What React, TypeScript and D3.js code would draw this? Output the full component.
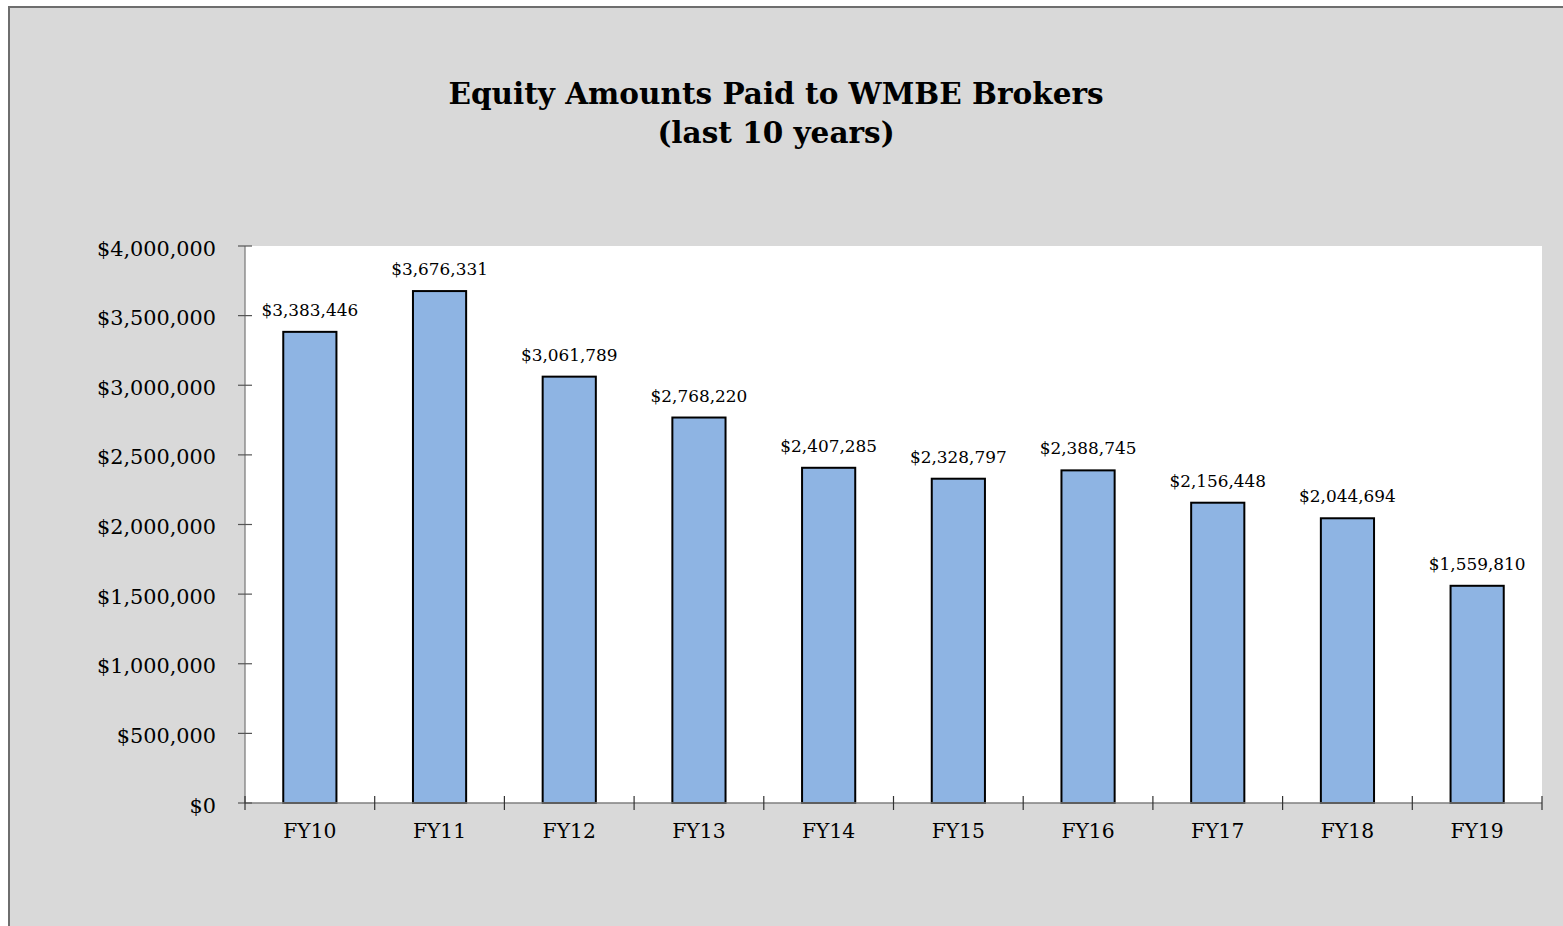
import React from "react";
import * as d3 from "d3";

const categories = ["FY10", "FY11", "FY12", "FY13", "FY14", "FY15", "FY16", "FY17", "FY18", "FY19"];
const amounts = [3383446, 3676331, 3061789, 2768220, 2407285, 2328797, 2388745, 2156448, 2044694, 1559810];
const yTicks = [0, 500000, 1000000, 1500000, 2000000, 2500000, 3000000, 3500000, 4000000];
const titleLines = ["Equity Amounts Paid to WMBE Brokers", "(last 10 years)"];

const W = 1563;
const H = 926;
const left = 245;
const right = 1542;
const top = 246;
const bottom = 803;
const font = "'DejaVu Serif', serif";

export default function App() {
  const x = d3.scaleBand<string>().domain(categories).range([left, right]).paddingInner(0.59).paddingOuter(0.295);
  const xb = d3.scaleBand<string>().domain(categories).range([left, right]);
  const y = d3.scaleLinear().domain([0, 4000000]).range([bottom, top]);
  const fmt = (v: number) => "$" + d3.format(",")(v);
  const boundaries = [left, ...categories.map((c) => (xb(c) as number) + xb.bandwidth())];

  return (
    <svg width={W} height={H} style={{ position: "absolute", left: 0, top: 0 }} fontFamily={font}>
      <rect x={9} y={7} width={W} height={H} fill="#d9d9d9" />
      <line x1={9} y1={6} x2={9} y2={H} stroke="#6e6e6e" strokeWidth={2} />
      <line x1={8} y1={7} x2={W} y2={7} stroke="#6e6e6e" strokeWidth={2} />
      {titleLines.map((t, i) => (
        <text key={t} x={776} y={104 + i * 39} textAnchor="middle" fontWeight="bold" fontSize={29.5} fill="#000">
          {t}
        </text>
      ))}
      <rect x={left} y={top} width={right - left} height={bottom - top} fill="#fff" />
      {categories.map((c, i) => (
        <rect
          key={c}
          x={x(c)}
          y={y(amounts[i])}
          width={x.bandwidth()}
          height={bottom - y(amounts[i])}
          fill="#8eb4e3"
          stroke="#000"
          strokeWidth={2}
        />
      ))}
      <line x1={left} y1={top} x2={left} y2={bottom} stroke="#7f7f7f" strokeWidth={1.3} />
      <line x1={left} y1={bottom} x2={right} y2={bottom} stroke="#7f7f7f" strokeWidth={1.3} />
      {yTicks.map((t) => (
        <g key={t}>
          <line x1={238} x2={252} y1={y(t)} y2={y(t)} stroke="#555" strokeWidth={1.2} />
          <text x={216} y={y(t) + 9.5} textAnchor="end" fontSize={20.8} fill="#000">
            {fmt(t)}
          </text>
        </g>
      ))}
      {boundaries.map((b, i) => (
        <line key={i} x1={b} x2={b} y1={796} y2={810} stroke="#333" strokeWidth={1.2} />
      ))}
      {categories.map((c) => (
        <text key={c} x={(xb(c) as number) + xb.bandwidth() / 2} y={838} textAnchor="middle" fontSize={20.3} fill="#000">
          {c}
        </text>
      ))}
      {categories.map((c, i) => (
        <text
          key={c + "l"}
          x={(x(c) as number) + x.bandwidth() / 2}
          y={y(amounts[i]) - 16}
          textAnchor="middle"
          fontSize={16.9}
          fill="#000"
        >
          {fmt(amounts[i])}
        </text>
      ))}
    </svg>
  );
}
